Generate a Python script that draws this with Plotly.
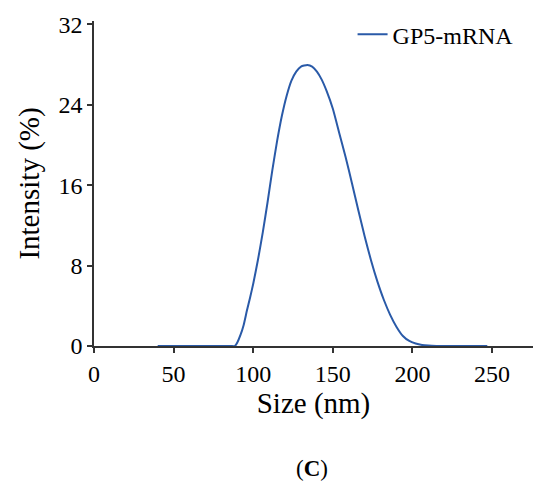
import plotly.graph_objects as go

# size distribution (nm, % intensity)
size_nm = [40, 60, 80, 86, 88.5, 90, 92, 94, 96, 98, 100, 103, 106, 109, 112, 115,
           118, 121, 124, 127, 130, 134, 137, 140, 143, 146, 150, 154, 158, 162,
           166, 170, 174, 178, 182, 186, 190, 194, 198, 202, 206, 210, 215, 220, 247]
intensity = [0, 0, 0, 0, 0, 0.35, 1.1, 2.1, 3.5, 4.8, 6.2, 8.6, 11.3, 14.3, 17.5, 20.4,
             22.9, 24.9, 26.4, 27.3, 27.8, 27.95, 27.8, 27.3, 26.5, 25.4, 23.6, 21.2, 18.8, 16.2,
             13.5, 10.9, 8.5, 6.4, 4.6, 3.1, 1.9, 1.0, 0.5, 0.25, 0.1, 0.04, 0.01, 0, 0]

x_ticks = [0, 50, 100, 150, 200, 250]
y_ticks = [0, 8, 16, 24, 32]

font = "Liberation Serif, Times New Roman, serif"

fig = go.Figure()
fig.add_trace(go.Scatter(x=size_nm, y=intensity, mode="lines", name="GP5-mRNA",
                         line=dict(color="#2a5aa8", width=2, shape="spline", smoothing=0.5)))

# page body adds an 8px offset, so the figure is drawn a bit smaller
fig.update_layout(
    width=542, height=477,
    margin=dict(l=86, r=17, t=13, b=139, autoexpand=False),
    paper_bgcolor="white", plot_bgcolor="white",
    font=dict(family=font, size=24, color="black"),
    showlegend=True,
    legend=dict(x=0.589, y=1.027, xanchor="left", yanchor="top",
                bgcolor="rgba(0,0,0,0)", font=dict(size=24)),
    annotations=[dict(text="(<b>C</b>)", x=0.497, y=-0.376, xref="paper", yref="paper",
                      xanchor="center", yanchor="middle", showarrow=False,
                      font=dict(size=23))],
)
fig.update_xaxes(range=[0, 275.7], tickvals=x_ticks, showgrid=False, zeroline=False,
                 showline=True, linecolor="#333", linewidth=1.5,
                 ticks="outside", ticklen=5, tickcolor="#333", tickwidth=1.5,
                 title=dict(text="Size (nm)", standoff=6))
fig.update_yaxes(range=[0, 32.33], tickvals=y_ticks, showgrid=False, zeroline=False,
                 showline=True, linecolor="#333", linewidth=1.5,
                 ticks="outside", ticklen=5, tickcolor="#333", tickwidth=1.5,
                 title=dict(text="Intensity (%)", standoff=10))

fig.write_html("out.html")
